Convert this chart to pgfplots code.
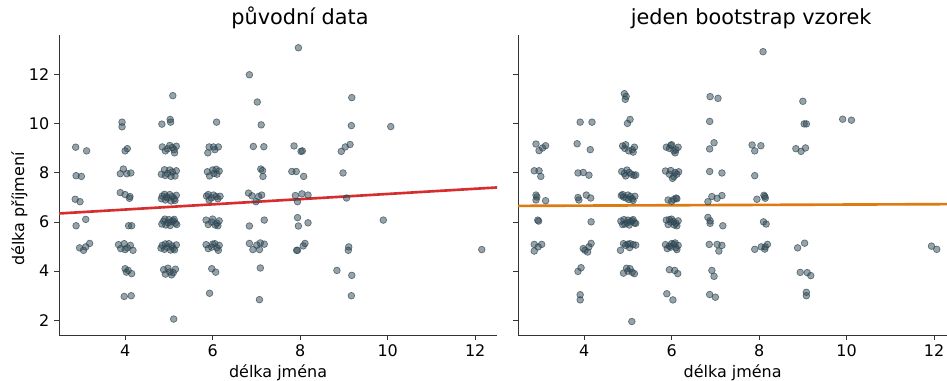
\documentclass[border=0pt]{standalone}
\usepackage{pgfplots}
\pgfplotsset{compat=1.18}
\usepackage{fontspec}
\setmainfont{DejaVu Sans}
\definecolor{ptc}{RGB}{47,72,84}
\definecolor{rl}{RGB}{214,45,46}
\definecolor{ol}{RGB}{222,122,18}
\pgfplotsset{
  panel/.style={
    scale only axis, height=216pt,
    ymin=1.4, ymax=13.62, xmin=2.49,
    axis lines*=left,
    axis line style={-, draw=black!80, line width=0.7pt},
    tick style={draw=black!80, line width=0.7pt},
    tick align=outside, major tick length=3.5pt,
    xtick={4,6,8,10,12}, ytick={2,4,6,8,10,12},
    /pgf/number format/assume math mode=true,
    ticklabel style={font=\fontsize{11.5}{13}\selectfont},
    label style={font=\fontsize{11.5}{13}\selectfont},
    xlabel style={yshift=1pt},
    xlabel={délka jména},
  },
  pts/.style={only marks, mark=*, mark size=2.4pt,
    mark options={fill=ptc, fill opacity=0.5, draw=ptc, draw opacity=0.7, line width=0.5pt}},
}
\begin{document}
\begin{tikzpicture}
\useasboundingbox (0,0) rectangle (681.84pt,273.6pt);
\begin{axis}[panel, at={(42.5pt,32.4pt)}, anchor=south west, width=315.4pt, xmax=12.5,
  title={původní data},
  title style={font=\fontsize{15}{17}\selectfont, at={(0.55,1)}, anchor=south, yshift=-5pt},
  ylabel={délka příjmení},
  ylabel style={at={(axis description cs:-0.061,0.42)}, anchor=south, rotate=0}]
\addplot[pts] table {
x y
2.87 9.05
3.12 8.90
2.88 7.89
3.00 7.86
2.86 6.93
2.97 6.83
2.88 5.85
3.10 6.11
2.96 4.95
3.05 4.85
3.19 5.13
3.10 4.99
3.93 10.07
3.93 9.88
4.00 8.90
4.05 8.99
3.96 8.16
3.89 7.97
4.04 7.97
4.13 8.00
3.89 7.20
4.00 7.12
4.11 7.04
4.10 6.97
4.08 5.85
4.15 5.85
3.85 5.08
3.90 4.92
3.98 5.12
4.05 4.95
4.12 5.05
4.18 4.85
4.00 4.88
4.00 4.10
4.07 4.03
4.15 3.90
4.03 3.96
3.98 2.97
4.14 3.00
5.09 11.15
4.84 9.99
5.03 10.18
5.04 10.07
4.85 9.06
5.12 8.95
5.02 9.12
4.92 8.90
5.17 9.09
4.97 8.98
5.08 9.04
5.13 8.82
5.02 8.12
4.92 7.90
5.17 8.09
4.97 7.98
5.08 8.04
4.83 7.95
5.14 7.88
4.90 8.13
5.05 7.86
4.85 7.06
5.12 6.95
5.02 7.12
4.92 6.90
5.17 7.09
4.97 6.98
5.08 7.04
4.83 6.95
5.14 6.88
4.90 7.13
5.05 6.86
4.95 7.03
4.88 6.04
5.15 5.96
5.00 6.10
4.93 5.88
5.12 6.11
4.98 5.97
5.06 6.02
4.84 5.92
5.18 5.90
4.91 6.12
5.03 5.86
5.10 6.05
4.85 5.05
5.10 4.93
5.00 5.12
4.90 4.89
5.17 5.07
4.96 4.97
5.07 5.03
4.82 4.94
5.13 4.87
4.92 5.11
5.04 4.86
4.88 4.06
5.10 3.94
4.98 4.12
4.92 3.88
5.15 4.08
5.02 3.97
5.06 3.85
5.11 2.05
6.09 10.07
5.92 9.06
6.02 9.06
6.13 9.06
5.89 8.82
6.05 8.95
5.88 8.05
6.10 7.95
6.00 8.12
5.93 7.88
6.15 8.08
6.03 7.98
6.08 8.15
5.86 7.06
6.12 6.95
6.02 7.10
5.92 6.90
6.17 7.05
5.97 6.98
6.08 7.04
5.90 7.12
5.85 6.08
6.10 5.95
6.00 6.12
5.90 5.90
6.15 6.05
5.98 6.00
6.06 5.88
6.12 5.85
5.85 5.08
6.10 4.95
6.00 5.10
5.90 4.92
6.15 5.05
5.98 4.98
6.05 5.12
6.13 4.85
5.98 4.10
6.07 3.96
5.93 3.10
6.84 12.00
7.02 10.89
7.11 9.96
6.93 9.08
7.17 9.07
7.10 8.16
7.14 8.10
7.15 7.86
6.82 7.18
6.90 7.07
7.05 7.04
6.99 6.83
7.12 7.10
6.84 5.84
7.18 6.08
6.84 5.13
6.92 4.88
7.01 5.06
7.09 5.15
7.18 5.10
7.07 4.88
7.09 4.13
7.07 2.84
7.96 13.10
7.86 9.10
8.05 8.90
8.02 8.88
7.81 8.06
7.91 8.06
8.08 7.86
7.89 7.08
8.04 7.15
8.18 7.10
7.94 6.83
7.94 6.18
7.96 5.84
8.18 5.97
7.92 4.85
7.94 4.85
8.07 5.03
8.11 5.13
9.18 11.07
9.17 9.93
8.94 8.88
9.03 9.06
9.14 9.16
8.98 8.00
9.06 6.98
9.11 4.99
9.10 4.85
8.84 4.03
9.18 3.83
9.17 3.00
10.07 9.89
9.90 6.08
12.15 4.88
};
\addplot[rl, line width=1.9pt] coordinates {(2.49,6.35) (12.5,7.41)};
\end{axis}
\begin{axis}[panel, at={(373.0pt,32.4pt)}, anchor=south west, width=309pt, xmax=12.3,
  title={jeden bootstrap vzorek},
  title style={font=\fontsize{15}{17}\selectfont, at={(0.543,1)}, anchor=south, yshift=-5pt},
  yticklabels={}]
\addplot[pts] table {
x y
2.90 9.18
2.97 8.91
3.05 9.02
3.12 9.11
2.86 8.09
2.97 8.09
3.01 7.86
2.90 7.10
2.90 6.90
3.12 6.87
2.92 7.02
2.94 6.08
2.96 6.04
2.86 5.09
3.03 5.09
2.86 4.82
2.95 4.99
3.91 10.07
4.18 10.07
3.84 9.19
4.14 8.95
3.86 8.00
3.98 8.02
4.11 7.91
3.86 7.00
4.05 7.10
4.15 6.98
3.88 6.90
4.16 6.01
3.98 4.92
4.08 4.78
4.16 5.13
4.02 4.85
4.11 4.99
3.86 3.99
3.93 4.14
3.91 3.04
3.91 2.83
4.92 11.23
4.94 11.00
4.96 11.12
4.99 10.02
5.05 10.18
4.88 9.10
5.10 8.95
4.95 9.15
5.02 8.90
5.15 9.05
4.93 9.00
5.12 8.85
4.86 8.06
5.08 7.95
4.98 8.12
5.14 7.90
4.92 7.98
5.03 8.02
5.18 7.92
4.95 7.88
4.85 7.08
5.10 6.95
5.00 7.10
4.90 7.02
5.16 7.05
4.96 6.98
5.06 7.04
4.88 7.12
5.12 6.88
5.02 6.92
4.84 6.04
5.15 5.96
5.00 6.08
4.93 5.92
5.12 6.10
4.98 5.97
5.06 6.02
4.88 5.90
5.18 5.95
4.91 6.10
5.03 5.88
5.10 6.05
4.83 4.85
5.00 5.10
5.05 5.12
4.95 5.05
5.12 5.08
5.04 4.96
5.18 5.06
4.90 5.12
4.90 3.92
5.05 4.10
5.00 4.00
5.10 3.95
5.15 3.90
4.97 4.12
5.09 1.95
5.88 9.05
6.10 8.95
5.98 9.12
6.05 8.90
6.15 9.05
5.95 9.00
6.08 8.82
6.00 9.15
5.86 8.08
6.12 7.95
5.98 8.10
6.05 7.85
6.16 8.05
5.95 7.95
6.08 8.02
6.02 7.78
5.92 6.90
6.05 6.92
6.10 6.98
6.00 6.85
6.12 6.95
5.88 6.08
6.10 5.95
6.00 6.12
5.92 5.90
6.15 6.05
5.98 6.00
6.06 5.88
6.12 5.85
5.95 6.10
6.04 6.02
5.86 5.08
6.10 4.95
6.00 5.12
5.90 4.92
6.15 5.05
5.98 4.98
6.05 5.10
6.12 4.88
5.95 5.02
6.08 5.15
5.95 4.06
6.07 4.03
6.14 3.90
5.89 3.08
6.03 2.83
6.88 11.11
7.06 11.04
6.87 10.10
6.97 9.23
6.87 8.98
6.87 8.06
7.15 8.00
6.83 6.83
6.92 7.04
7.04 6.97
7.15 7.08
6.83 6.19
6.88 5.95
7.17 5.85
6.88 6.05
6.86 5.09
7.04 5.09
7.15 5.05
7.08 4.82
6.92 4.03
6.97 3.79
6.87 3.05
7.00 2.94
8.09 12.94
7.84 9.14
8.04 9.11
7.90 8.90
7.90 7.89
8.11 7.09
8.13 7.04
7.95 6.93
8.14 6.97
8.10 6.01
8.16 5.92
7.90 4.89
8.05 4.99
8.13 4.90
8.19 5.09
8.14 4.99
9.00 10.92
9.03 10.00
9.08 10.00
8.84 8.99
9.06 9.02
8.96 8.88
8.88 4.95
9.04 5.14
8.94 3.95
9.10 3.94
9.18 3.82
9.08 3.14
9.08 3.00
9.91 10.19
10.11 10.15
11.94 5.02
12.06 4.89
};
\addplot[ol, line width=1.9pt] coordinates {(2.49,6.66) (12.3,6.73)};
\end{axis}
\end{tikzpicture}
\end{document}
